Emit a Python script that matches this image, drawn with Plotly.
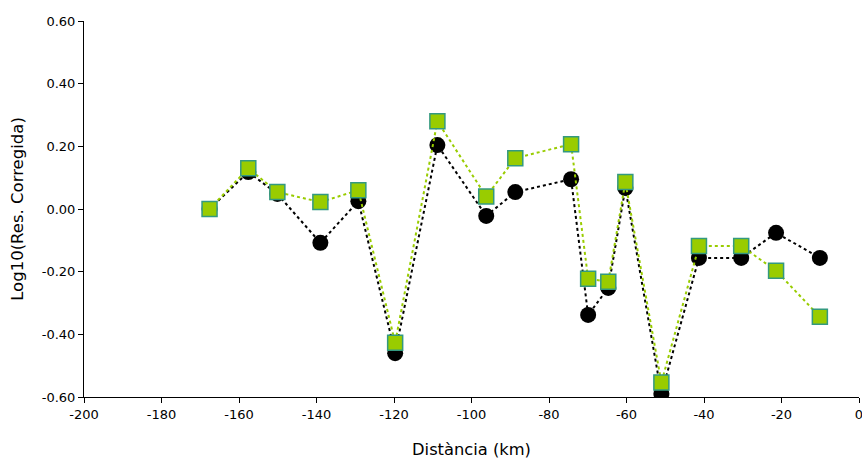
import plotly.graph_objects as go

dist_km = [-167.6, -157.6, -150.1, -139.0, -129.2, -119.7, -108.8, -96.2, -88.7,
           -74.3, -69.9, -64.7, -60.3, -51.0, -41.3, -30.4, -21.4, -10.1]
log_res_black = [0.00, 0.118, 0.048, -0.108, 0.025, -0.46, 0.204, -0.022, 0.054,
                 0.095, -0.338, -0.252, 0.067, -0.59, -0.156, -0.156, -0.076, -0.156]
log_res_green = [0.00, 0.13, 0.054, 0.022, 0.06, -0.427, 0.28, 0.04, 0.162,
                 0.207, -0.223, -0.232, 0.086, -0.554, -0.118, -0.118, -0.197, -0.344]

x_ticks = [-200, -180, -160, -140, -120, -100, -80, -60, -40, -20, 0]
y_ticks = [-0.6, -0.4, -0.2, 0.0, 0.2, 0.4, 0.6]

fig = go.Figure()
fig.add_trace(go.Scatter(
    x=dist_km, y=log_res_black, mode="lines+markers",
    line=dict(color="black", width=2, dash="dot"),
    marker=dict(symbol="circle", size=16, color="black"),
    showlegend=False))
fig.add_trace(go.Scatter(
    x=dist_km, y=log_res_green, mode="lines+markers",
    line=dict(color="#99CC00", width=2, dash="dot"),
    marker=dict(symbol="square", size=15, color="#99CC00",
                line=dict(color="#339980", width=1.5)),
    showlegend=False))

font_fam = "DejaVu Sans, sans-serif"
fig.update_layout(
    width=862, height=459,
    margin=dict(l=83.5, r=3, t=20.7, b=62),
    paper_bgcolor="white", plot_bgcolor="white",
    font=dict(family=font_fam, size=13, color="black"),
    xaxis=dict(range=[-200, 0], tickvals=x_ticks, ticktext=[str(v) for v in x_ticks],
               showgrid=False, zeroline=False, showline=True, linecolor="black",
               linewidth=1, ticks="outside", ticklen=5, tickcolor="black",
               ticklabeloverflow="allow", automargin=False,
               title=dict(text="Distància (km)", font=dict(size=16.3, family=font_fam), standoff=22),
               tickfont=dict(size=13)),
    yaxis=dict(range=[-0.6, 0.6], tickvals=y_ticks, ticktext=[f"{v:.2f}" for v in y_ticks],
               showgrid=False, zeroline=False, showline=True, linecolor="black",
               linewidth=1, ticks="outside", ticklen=5, tickcolor="black",
               automargin=False,
               title=dict(text="Log10(Res. Corregida)", font=dict(size=16.5, family=font_fam), standoff=13),
               tickfont=dict(size=13)),
)
fig.write_html("out.html")
